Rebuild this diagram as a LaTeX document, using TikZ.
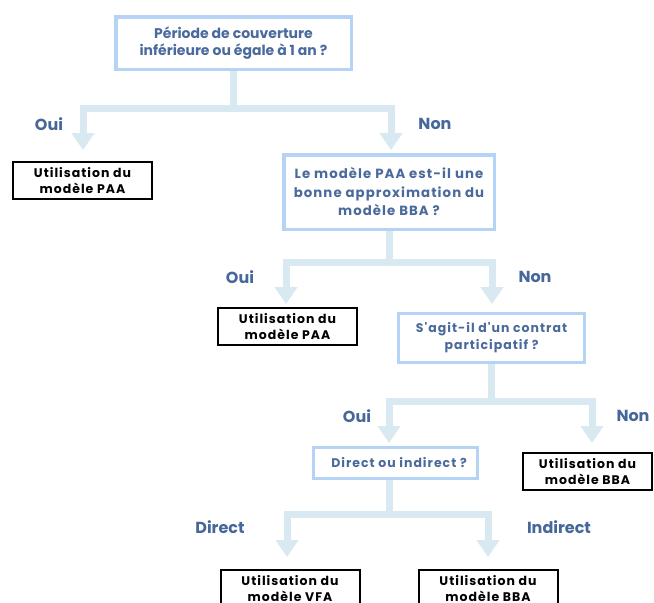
\documentclass[tikz,border=0pt]{standalone}
\usepackage{fontspec}
\setmainfont{Poppins}
\newfontfamily\widefont[LetterSpace=8]{Poppins}
\usetikzlibrary{arrows.meta}
\definecolor{qborder}{HTML}{B5D3F4}
\definecolor{qtext}{HTML}{4A6A9C}
\definecolor{lbl}{HTML}{46679A}
\definecolor{connc}{HTML}{D8E9F1}
\pgfdeclarelayer{bg}
\pgfsetlayers{bg,main}
\newcommand{\apos}{\char"27\relax}
\tikzset{
  qbox/.style={draw=qborder, line width=3.5pt, fill=white, text=qtext,
    font=\widefont\bfseries\fontsize{13.3}{18.5}\selectfont, align=center, inner sep=0pt},
  rbox/.style={draw=black, line width=2pt, fill=white, text=black,
    font=\widefont\bfseries\fontsize{12.5}{16}\selectfont, align=center, inner sep=0pt,
    minimum width=139pt, minimum height=37pt},
  conn/.style={draw=connc, line width=7pt, line join=miter,
    -{Triangle[width=22pt,length=17pt]}},
  stem/.style={draw=connc, line width=7pt},
  lab/.style={text=lbl, font=\bfseries\fontsize{16}{18}\selectfont, inner sep=0pt},
}
\begin{document}
\begin{tikzpicture}[x=1pt,y=-1pt]
\useasboundingbox (0,0) rectangle (654,603);
\clip (0,0) rectangle (654,603);

% questions
\node[qbox, minimum width=235.5pt, minimum height=52.5pt,
      font=\bfseries\fontsize{14}{16.5}\selectfont] (q1) at (233.5,43)
  {Période de couverture\\inférieure ou égale à 1 an ?};
\node[qbox, minimum width=210.5pt, minimum height=74.5pt] (q2) at (389,192)
  {Le modèle PAA est-il une\\bonne approximation du\\modèle BBA ?};
\node[qbox, line width=3pt, minimum width=186pt, minimum height=49pt,
      font=\widefont\bfseries\fontsize{12.5}{17}\selectfont] (q3) at (491.5,338)
  {S\apos agit-il d\apos un contrat\\participatif ?};
\node[qbox, line width=3pt, minimum width=164pt, minimum height=31pt,
      font=\widefont\bfseries\fontsize{12.5}{17}\selectfont] (q4) at (395.5,463)
  {\hspace{7pt}Direct ou indirect ?};

% results
\node[rbox] (r1) at (82.5,180.5) {Utilisation du\\modèle PAA};
\node[rbox] (r2) at (287.5,326.5) {Utilisation du\\modèle PAA};
\node[rbox, minimum width=129pt] (r3) at (587.5,471.5) {Utilisation du\\modèle BBA};
\node[rbox] (r4) at (290,588.5) {Utilisation du\\modèle VFA};
\node[rbox] (r5) at (488,588.5) {Utilisation du\\modèle BBA};

% branch labels
\node[lab] (l1) at (49,124) {Oui};
\node[lab] (l2) at (435,124) {Non};
\node[lab] (l3) at (240,277) {Oui};
\node[lab] (l4) at (535,277) {Non};
\node[lab] (l5) at (357,416) {Oui};
\node[lab] (l6) at (633,416) {Non};
\node[lab] (l7) at (220,527) {Direct};
\node[lab] (l8) at (559,527) {Indirect};

% connectors, behind the boxes
\begin{pgfonlayer}{bg}
  \fill[white] (0,0) rectangle (654,603);

  \coordinate (j1) at (233.5,108);
  \coordinate (a1) at (83,150);  \coordinate (b1) at (391,150);
  \draw[stem] (q1.south) -- (j1);
  \draw[conn] (j1) -| (a1);
  \draw[conn] (j1) -| (b1);

  \coordinate (j2) at (389,262);
  \coordinate (a2) at (286,304); \coordinate (b2) at (492,304);
  \draw[stem] (q2.south) -- (j2);
  \draw[conn] (j2) -| (a2);
  \draw[conn] (j2) -| (b2);

  \coordinate (j3) at (491.5,401);
  \coordinate (a3) at (389,443); \coordinate (b3) at (592,443);
  \draw[stem] (q3.south) -- (j3);
  \draw[conn] (j3) -| (a3);
  \draw[conn] (j3) -| (b3);

  \coordinate (j4) at (389,514);
  \coordinate (a4) at (287,557); \coordinate (b4) at (488,557);
  \draw[stem] (j4 |- q4.south) -- (j4);
  \draw[conn] (j4) -| (a4);
  \draw[conn] (j4) -| (b4);
\end{pgfonlayer}
\end{tikzpicture}
\end{document}
